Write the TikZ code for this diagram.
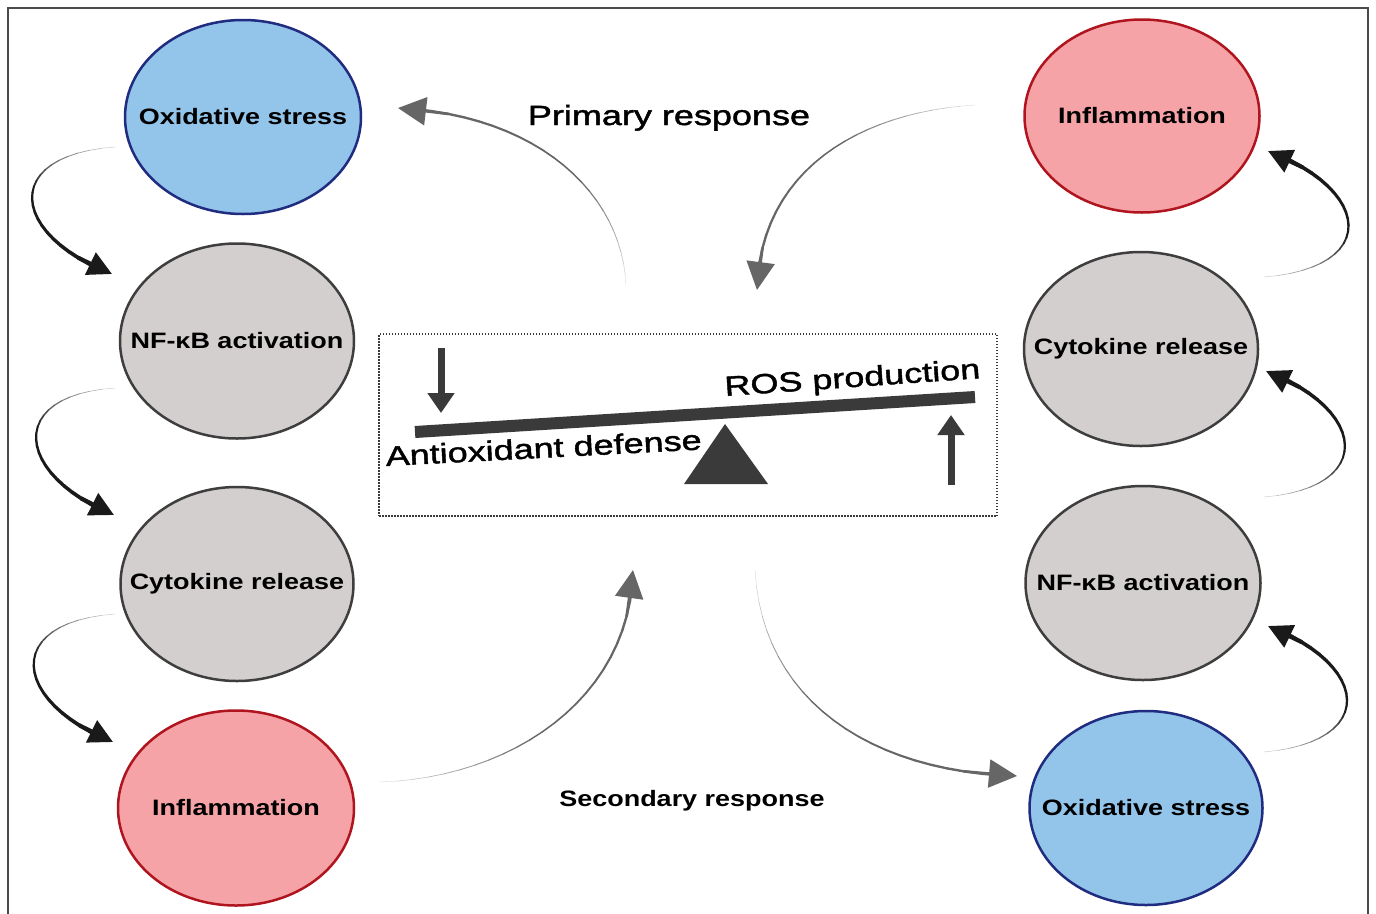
\documentclass[tikz,border=0pt]{standalone}
\usepackage{fontspec}
\setmainfont{Liberation Sans}
\newfontfamily\elfont[FakeStretch=1.21]{Liberation Sans}
\newfontfamily\bigfont[FakeStretch=1.3, FakeBold=1.6]{Liberation Sans}
\usetikzlibrary{shapes.geometric,arrows.meta}
\definecolor{bluefill}{HTML}{93C4EA}
\definecolor{blueline}{HTML}{1F2C80}
\definecolor{redfill}{HTML}{F5A3A6}
\definecolor{redline}{HTML}{B0151F}
\definecolor{grayfill}{HTML}{D4CFCF}
\definecolor{grayline}{HTML}{3E3E3E}
\definecolor{arrowgray}{HTML}{666666}
\definecolor{arrowblack}{HTML}{1A1A1A}
\definecolor{darkbar}{HTML}{3A3A3A}
\definecolor{framegray}{HTML}{4A4A4A}

\tikzset{
  bubble/.style={ellipse, draw, line width=2.5pt, inner sep=0pt},
  bluebubble/.style={bubble, fill=bluefill, draw=blueline},
  redbubble/.style={bubble, fill=redfill, draw=redline},
  graybubble/.style={bubble, fill=grayfill, draw=grayline},
  bigtext/.style={inner sep=0pt, font=\bigfont\fontsize{27.7pt}{32pt}\selectfont},
  smalltext/.style={inner sep=0pt, font=\elfont\bfseries\fontsize{22.3pt}{26pt}\selectfont},
  vertarrow/.style={draw=darkbar, line width=7pt, -{Triangle[length=20pt,width=26pt]}},
}

\newcommand{\taperarrow}[8]{%
  \path (#1) .. controls (#2) and (#3) .. (#4)
    foreach \k [evaluate=\k as \pp using \k/24] in {0,...,24} {coordinate[pos=\pp] (tp\k)};
  \foreach \k in {0,...,22}{%
    \pgfmathtruncatemacro\tpkn{\k+1}%
    \pgfmathsetmacro\tplw{0.4+(#6-0.4)*\k/22}%
    \pgfmathtruncatemacro\tpsh{25+75*min(1,\k/10)}%
    \draw[line width=\tplw pt, line cap=round, draw=#5!\tpsh!white] (tp\k) -- (tp\tpkn);
  }
  \draw[draw=#5, line width=#6pt, -{Triangle[length=#7pt,width=#8pt]}] (tp21) -- (tp24);
}

\begin{document}
\begin{tikzpicture}[x=1pt,y=-1pt]
\useasboundingbox (0,0) rectangle (1376,913);
\fill[white] (0,0) rectangle (1376,913);

% frame
\draw[line width=2pt, draw=framegray] (8,930) -- (8,8) -- (1368,8) -- (1368,930);

% left column
\node[bluebubble, minimum width=236pt, minimum height=194pt] (L1) at (243,117) {};
\node[smalltext] (L1t) at (L1) {Oxidative stress};
\node[graybubble, minimum width=234pt, minimum height=195pt] (L2) at (237,341) {};
\node[smalltext] (L2t) at (L2) {NF-κB activation};
\node[graybubble, minimum width=233pt, minimum height=194pt] (L3) at (237,584) {};
\node[smalltext] (L3t) at (L3) {Cytokine release};
\node[redbubble, minimum width=236pt, minimum height=195pt] (L4) at (236,808) {};
\node[smalltext] (L4t) at (L4) {Inflammation};

% right column
\node[redbubble, minimum width=235pt, minimum height=193pt] (R1) at (1142,116) {};
\node[smalltext] (R1t) at (R1) {Inflammation};
\node[graybubble, minimum width=234pt, minimum height=194pt] (R2) at (1141,349) {};
\node[smalltext] (R2t) at (R2) {Cytokine release};
\node[graybubble, minimum width=235pt, minimum height=194pt] (R3) at (1143,583) {};
\node[smalltext] (R3t) at (R3) {NF-κB activation};
\node[bluebubble, minimum width=233pt, minimum height=194pt] (R4) at (1146,808) {};
\node[smalltext] (R4t) at (R4) {Oxidative stress};

% labels
\node[bigtext, anchor=base] (prim) at (669,125) {Primary response};
\node[smalltext, anchor=base] (sec) at (692,806) {Secondary response};

% central box
\node[draw=darkbar, dash pattern=on 1.5pt off 1.5pt, line width=1.5pt, minimum width=618pt, minimum height=182pt, inner sep=0pt] (box) at (688,425) {};
\coordinate (beamL) at (415,432);
\coordinate (beamR) at (975,397);
\draw[line width=12pt, draw=darkbar] (beamL) -- (beamR);
\coordinate (apex) at (725,424);
\coordinate (baseL) at (684,484);
\coordinate (baseR) at (768,484);
\fill[darkbar] (apex) -- (baseL) -- (baseR) -- cycle;
\node[bigtext, anchor=base west, rotate=4] (ros) at (725,396) {ROS production};
\node[bigtext, anchor=base west, rotate=3] (anti) at (386,466) {Antioxidant defense};
\coordinate (dtop) at (441,348);
\coordinate (dtip) at (441,413);
\draw[vertarrow] (dtop) -- (dtip);
\coordinate (ubot) at (951,485);
\coordinate (utip) at (951,415);
\draw[vertarrow] (ubot) -- (utip);

% black side arrows
\taperarrow{115,147}{0,155}{10,235}{112,274}{arrowblack}{4}{24}{24}
\taperarrow{115,388}{5,395}{15,475}{114,515}{arrowblack}{4}{24}{24}
\taperarrow{115,614}{2,622}{12,702}{113,742}{arrowblack}{4}{24}{24}
\taperarrow{1264,277}{1380,268}{1372,190}{1268,151}{arrowblack}{4}{24}{24}
\taperarrow{1264,497}{1375,488}{1368,410}{1266,371}{arrowblack}{4}{24}{24}
\taperarrow{1264,752}{1378,742}{1370,665}{1268,626}{arrowblack}{4}{24}{24}

% gray response arrows
\taperarrow{626,285}{622,195}{540,115}{398,108}{arrowgray}{2.6}{28}{28}
\taperarrow{975,105}{860,112}{760,170}{757,290}{arrowgray}{2.6}{28}{28}
\taperarrow{380,782}{510,778}{630,700}{633,570}{arrowgray}{2.6}{28}{28}
\taperarrow{755,570}{762,700}{870,772}{1017,776}{arrowgray}{2.6}{28}{28}
\end{tikzpicture}
\end{document}
